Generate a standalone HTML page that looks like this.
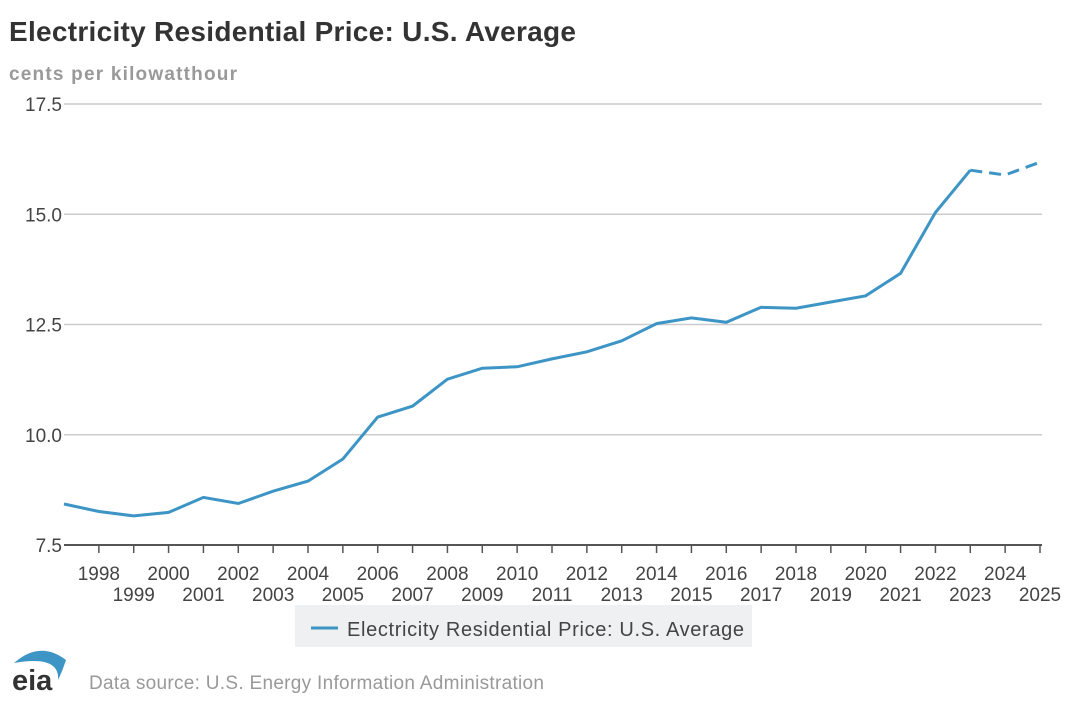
<!DOCTYPE html>
<html><head><meta charset="utf-8"><style>
body{margin:0;background:#fff;font-family:"Liberation Sans",sans-serif;}
</style></head><body>
<svg width="1080" height="703" style="display:block">
<text x="9" y="41" font-size="28" font-weight="bold" fill="#333" textLength="567">Electricity Residential Price: U.S. Average</text>
<text x="9" y="80" font-size="19" font-weight="bold" fill="#999" textLength="228">cents per kilowatthour</text>
<g id="grid"></g><g id="xaxis"></g>
<path id="solid" fill="none" stroke="#3d95c5" stroke-width="3"/>
<path id="dash" fill="none" stroke="#3d95c5" stroke-width="3" stroke-dasharray="12,7"/>
<rect x="295" y="605" width="457" height="42" fill="#eef0f2"/>
<line x1="311" y1="628" x2="338" y2="628" stroke="#3d95c5" stroke-width="3"/>
<text x="347" y="636" font-size="20" fill="#444" textLength="397">Electricity Residential Price: U.S. Average</text>
<path d="M14 663 Q40 640 66 660 Q62 672 58 680 Q60 655 14 663Z" fill="#3d95c5"/>
<text x="12" y="690" font-size="29" font-weight="bold" fill="#333">eia</text>
<text x="89" y="689" font-size="19" fill="#999" textLength="455">Data source: U.S. Energy Information Administration</text>
</svg>
<script>
const years=[1997,1998,1999,2000,2001,2002,2003,2004,2005,2006,2007,2008,2009,2010,2011,2012,2013,2014,2015,2016,2017,2018,2019,2020,2021,2022,2023,2024,2025];
const prices=[8.43,8.26,8.16,8.24,8.58,8.44,8.72,8.95,9.45,10.40,10.65,11.26,11.51,11.54,11.72,11.88,12.13,12.52,12.65,12.55,12.89,12.87,13.01,13.15,13.66,15.04,16.00,15.89,16.18];
const forecastStart=2023;
const yTicks=[7.5,10.0,12.5,15.0,17.5];
const NS="http://www.w3.org/2000/svg";
const X0=64,X1=1040,Y0=545,Y1=104;
const x=yr=>X0+(yr-years[0])/(years[years.length-1]-years[0])*(X1-X0);
const y=v=>Y0-(v-7.5)/(17.5-7.5)*(Y0-Y1);
function mk(t,a,p){const e=document.createElementNS(NS,t);for(const k in a)e.setAttribute(k,a[k]);p.appendChild(e);return e;}
const g=document.getElementById('grid'),xa=document.getElementById('xaxis');
yTicks.forEach(t=>{
 if(t>7.5){const l=mk('line',{x1:X0,x2:1042,y1:y(t),y2:y(t),stroke:'#ccc','stroke-width':1.5},g);
 
 }
 const tx=mk('text',{x:X0-2,y:y(t)+7,'text-anchor':'end','font-size':19,fill:'#444'},g);
 tx.textContent=t.toFixed(1);
 
 
});
const ax=mk('line',{x1:X0,x2:1042,y1:Y0,y2:Y0,stroke:'#555','stroke-width':2},xa);


years.forEach(yr=>{
 if(yr===years[0])return;
 const tk=mk('line',{x1:x(yr),x2:x(yr),y1:Y0,y2:Y0+8,stroke:'#555','stroke-width':1.5},xa);
 
 
 const tx=mk('text',{x:x(yr),y:yr%2===0?580:601,'text-anchor':'middle','font-size':19,fill:'#444'},xa);
 tx.textContent=yr;
 
 
});
let s='',d='';
years.forEach((yr,i)=>{const p=x(yr).toFixed(1)+','+y(prices[i]).toFixed(1);
 if(yr<=forecastStart)s+=(s?'L':'M')+p;
 if(yr>=forecastStart)d+=(d?'L':'M')+p;});
document.getElementById('solid').setAttribute('d',s);
document.getElementById('dash').setAttribute('d',d);
</script>
</body></html>
